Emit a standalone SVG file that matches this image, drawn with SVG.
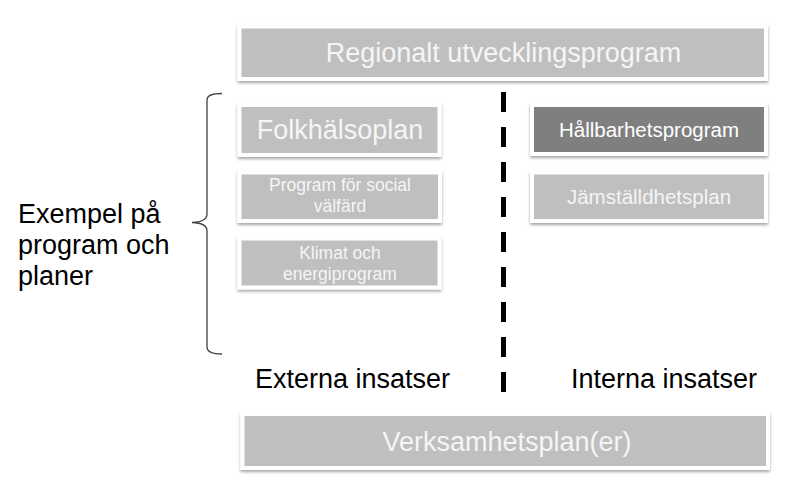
<svg xmlns="http://www.w3.org/2000/svg" width="786" height="497" viewBox="0 0 786 497">
<defs>
<filter id="sh" x="-5%" y="-20%" width="110%" height="150%">
<feDropShadow dx="0" dy="2" stdDeviation="1.5" flood-color="#000" flood-opacity="0.35"/>
</filter>
<style>
.box{fill:#bfbfbf;stroke:#fff;stroke-width:4;filter:url(#sh)}
.dark{fill:#7f7f7f}
.t{font-family:"Liberation Sans",Arial,sans-serif;fill:#f5f5f5;text-anchor:middle}
.w{fill:#fff}
.b{font-family:"Liberation Sans",Arial,sans-serif;fill:#000}
</style>
</defs>
<rect width="786" height="497" fill="#fff"/>
<g id="rup">
<rect class="box" x="239.5" y="26.5" width="526.5" height="52.5"/>
<text class="t" x="503.5" y="62" font-size="27">Regionalt utvecklingsprogram</text>
</g>
<g id="folkhalsoplan">
<rect class="box" x="239.5" y="105" width="200" height="50"/>
<text class="t" x="340" y="139" font-size="27">Folkhälsoplan</text>
</g>
<g id="social">
<rect class="box" x="239.5" y="172.5" width="200.5" height="48.5"/>
<text class="t" x="340" y="191" font-size="17.5">Program för social</text>
<text class="t" x="340" y="212" font-size="17.5">välfärd</text>
</g>
<g id="klimat">
<rect class="box" x="239.5" y="238.5" width="200" height="49"/>
<text class="t" x="340" y="259" font-size="17.5">Klimat och</text>
<text class="t" x="340" y="280" font-size="17.5">energiprogram</text>
</g>
<g id="hallbarhet">
<rect class="box dark" x="532" y="105" width="234" height="49"/>
<text class="t w" x="649" y="137" font-size="20.5">Hållbarhetsprogram</text>
</g>
<g id="jamstalldhet">
<rect class="box" x="532" y="172.5" width="234" height="48.5"/>
<text class="t" x="649" y="204" font-size="20.5">Jämställdhetsplan</text>
</g>
<g id="verksamhet">
<rect class="box" x="242.5" y="414" width="525.5" height="54"/>
<text class="t" x="507" y="451" font-size="27">Verksamhetsplan(er)</text>
</g>
<g id="connectors">
<line x1="503.5" y1="92" x2="503.5" y2="392" stroke="#000" stroke-width="5" stroke-dasharray="20 15"/>
<path d="M222 93.5 Q207 93.5 207 100 L207 214 Q207 222 192 222.5 Q207 223 207 231 L207 347 Q207 354 222 354" fill="none" stroke="#404040" stroke-width="1.3"/>
</g>
<g id="labels">
<text class="b" x="18" y="223" font-size="27">Exempel på</text>
<text class="b" x="18" y="254" font-size="27">program och</text>
<text class="b" x="18" y="285" font-size="27">planer</text>
<text class="b" x="255" y="388" font-size="27">Externa insatser</text>
<text class="b" x="571" y="388" font-size="27">Interna insatser</text>
</g>
</svg>
